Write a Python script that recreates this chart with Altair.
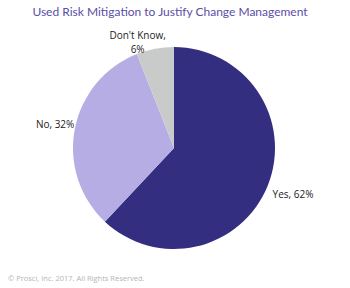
import altair as alt
import pandas as pd

categories = ["Yes", "No", "Don't Know"]
values = [62, 32, 6]
colors = ["#342E80", "#B6ADE4", "#C9CBCA"]

df = pd.DataFrame({"category": categories, "value": values, "order": [0, 1, 2]})
df["label"] = [f"{c}, {v}%" if c != "Don't Know" else f"{c},\n{v}%" for c, v in zip(categories, values)]

W, H = 350, 288
CX, CY = 174, 148

theta_scale = alt.Scale(domain=[0, 100], range=[0, 6.283185307179586])

base = alt.Chart(df).transform_window(
    cum="sum(value)", sort=[alt.SortField("order")], frame=[None, 0]
).transform_calculate(
    start="datum.cum - datum.value",
    mid="datum.cum - datum.value / 2",
    r="datum.category == 'Yes' ? 128 : (datum.category == 'No' ? 121 : 114)",
)

pie = base.mark_arc(outerRadius=101).encode(
    theta=alt.Theta("start:Q", scale=theta_scale, stack=None),
    theta2="cum:Q",
    color=alt.Color("category:N", scale=alt.Scale(domain=categories, range=colors), legend=None),
    x=alt.value(CX), y=alt.value(CY),
)

label_enc = dict(
    theta=alt.Theta("mid:Q", scale=theta_scale, stack=None),
    text="label:N",
    radius=alt.Radius("r:Q", scale=None),
    x=alt.value(CX), y=alt.value(CY),
)

labels = base.transform_filter("datum.category != \"Don't Know\"").mark_text(
    font="Open Sans", fontSize=10, color="#222222", align="center", baseline="middle"
).encode(**label_enc)

dk_label = base.transform_filter("datum.category == \"Don't Know\"").mark_text(
    font="Open Sans", fontSize=10, color="#222222", lineBreak="\n", lineHeight=14,
    align="center", baseline="middle", dx=-15
).encode(**label_enc)

title = alt.Chart(pd.DataFrame({"t": ["Used Risk Mitigation to Justify Change Management"]})).mark_text(
    font="Lato", fontSize=12, color="#5A4EA6", align="center", baseline="middle"
).encode(text="t:N", x=alt.value(170), y=alt.value(12))

footer = alt.Chart(pd.DataFrame({"t": ["© Prosci, Inc. 2017. All Rights Reserved."]})).mark_text(
    font="Open Sans", fontSize=7.5, color="#B5B5B5", align="left", baseline="middle"
).encode(text="t:N", x=alt.value(8), y=alt.value(279))

chart = alt.layer(pie, labels, dk_label, title, footer).properties(
    width=W, height=H, padding=0, autosize=alt.AutoSizeParams(type="none")
).configure_view(stroke=None)

chart.save("out.html", embed_options={"renderer": "svg", "actions": False})
